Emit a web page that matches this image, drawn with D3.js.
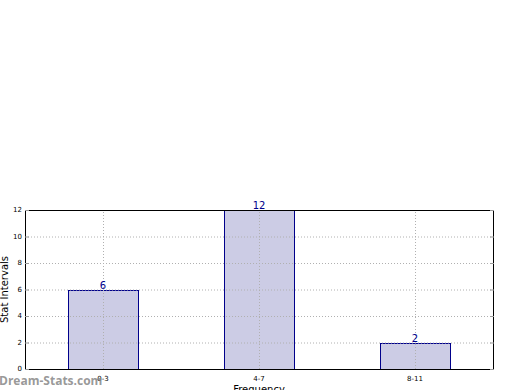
<!DOCTYPE html>
<html>
<head>
<meta charset="utf-8">
<script src="https://cdn.jsdelivr.net/npm/d3@7"></script>
<style>
  html, body { margin: 0; padding: 0; background: #fff; overflow: hidden; }
</style>
</head>
<body>
<div id="chart"></div>
<script>
const categories = ["0-3", "4-7", "8-11"];
const counts = [6, 12, 2];
const yTicks = [0, 2, 4, 6, 8, 10, 12];

const width = 520, height = 390;
const margin = {left: 25, right: 27, top: 210, bottom: 21};

const svg = d3.select("#chart").append("svg")
    .attr("width", width)
    .attr("height", height)
    .style("font-family", "'DejaVu Sans', sans-serif");

// bar centres at 0..n-1, limits -0.5..n-0.5 like matplotlib
const x = d3.scaleLinear()
    .domain([-0.5, categories.length - 0.5])
    .range([margin.left, width - margin.right]);
const y = d3.scaleLinear()
    .domain([0, 12])
    .range([height - margin.bottom, margin.top]);

const barW = 0.45;
const x0 = margin.left, x1 = width - margin.right;
const y0 = height - margin.bottom, y1 = margin.top;

// grid
const grid = svg.append("g")
    .attr("stroke", "#b0b0b0")
    .attr("stroke-width", 1)
    .attr("stroke-dasharray", "1,2");
grid.selectAll("line.h")
    .data(yTicks.slice(1, -1))
    .join("line")
    .attr("class", "h")
    .attr("x1", x0).attr("x2", x1)
    .attr("y1", d => y(d) + 0.5).attr("y2", d => y(d) + 0.5);

// bars
svg.append("g").selectAll("rect")
    .data(counts)
    .join("rect")
    .attr("x", (d, i) => Math.round(x(i - barW / 2)) + 0.5)
    .attr("y", d => Math.round(y(d)) + 0.5)
    .attr("width", (d, i) => Math.round(x(i + barW / 2)) - Math.round(x(i - barW / 2)))
    .attr("height", d => Math.round(y(0)) - Math.round(y(d)))
    .attr("fill", "#ccccE5")
    .attr("stroke", "#00008b")
    .attr("stroke-width", 1);

// vertical grid drawn over the bars
grid.raise();
grid.selectAll("line.v")
    .data(categories)
    .join("line")
    .attr("class", "v")
    .attr("x1", (d, i) => Math.round(x(i)) + 0.5).attr("x2", (d, i) => Math.round(x(i)) + 0.5)
    .attr("y1", y0).attr("y2", y1);

// value labels
svg.append("g").selectAll("text")
    .data(counts)
    .join("text")
    .attr("x", (d, i) => x(i))
    .attr("y", d => y(d) - 1)
    .attr("text-anchor", "middle")
    .attr("font-size", 10)
    .attr("fill", "#00008b")
    .text(d => d);

// frame
svg.append("rect")
    .attr("x", x0 + 0.5).attr("y", y1 + 0.5)
    .attr("width", x1 - x0).attr("height", y0 - y1)
    .attr("fill", "none")
    .attr("stroke", "#000")
    .attr("stroke-width", 1);

// y ticks (inside, both sides)
const yt = svg.append("g");
yt.selectAll("line.l")
    .data(yTicks)
    .join("line")
    .attr("class", "l")
    .attr("x1", x0).attr("x2", x0 + 4)
    .attr("y1", d => y(d) + 0.5).attr("y2", d => y(d) + 0.5)
    .attr("stroke", "#999");
yt.selectAll("line.r")
    .data(yTicks)
    .join("line")
    .attr("class", "r")
    .attr("x1", x1 - 3).attr("x2", x1 + 1)
    .attr("y1", d => y(d) + 0.5).attr("y2", d => y(d) + 0.5)
    .attr("stroke", "#999");
yt.selectAll("text")
    .data(yTicks)
    .join("text")
    .attr("x", x0 - 3)
    .attr("y", d => y(d))
    .attr("dy", "0.35em")
    .attr("text-anchor", "end")
    .attr("font-size", 7)
    .attr("fill", "#000")
    .text(d => d);

// x tick labels
svg.append("g").selectAll("text")
    .data(categories)
    .join("text")
    .attr("x", (d, i) => x(i))
    .attr("y", y0 + 12)
    .attr("text-anchor", "middle")
    .attr("font-size", 7)
    .attr("fill", "#000")
    .text(d => d);

// axis titles
svg.append("text")
    .attr("x", (x0 + x1) / 2)
    .attr("y", y0 + 24)
    .attr("text-anchor", "middle")
    .attr("font-size", 10)
    .text("Frequency");
svg.append("text")
    .attr("transform", `translate(8,${(y0 + y1) / 2}) rotate(-90)`)
    .attr("text-anchor", "middle")
    .attr("font-size", 10)
    .text("Stat Intervals");

// watermark
svg.append("text")
    .attr("x", -1)
    .attr("y", 385)
    .attr("font-size", 12)
    .attr("font-weight", "bold")
    .attr("fill", "#8c8c8c")
    .attr("fill-opacity", 0.9)
    .style("font-family", "'Open Sans', 'DejaVu Sans', sans-serif")
    .text("Dream-Stats.com");
</script>
</body>
</html>
